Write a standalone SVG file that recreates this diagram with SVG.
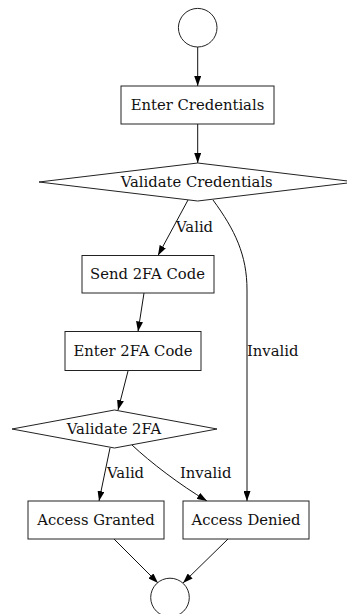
<svg xmlns="http://www.w3.org/2000/svg" width="347" height="614" viewBox="0 0 347 614">
<defs>
<marker id="ah" viewBox="0 0 10 7" refX="10" refY="3.5" markerWidth="10" markerHeight="7" markerUnits="userSpaceOnUse" orient="auto">
<path d="M0,0 L10,3.5 L0,7 z" fill="#000"/>
</marker>
<style>
.n{fill:#fff;stroke:#222;stroke-width:1}
.t{font-family:"DejaVu Serif",serif;font-size:14.8px;fill:#111;text-anchor:middle}
.l{font-family:"DejaVu Serif",serif;font-size:14.8px;fill:#111}
.e{fill:none;stroke:#111;stroke-width:1;marker-end:url(#ah)}
</style>
</defs>
<rect width="347" height="614" fill="#fff"/>
<g id="edges">
<path class="e" d="M197.7,47 L197.7,86"/>
<path class="e" d="M197.7,124 L197.7,163"/>
<path class="e" d="M188,200 L158,255.5"/>
<path class="e" d="M144,293 L138,331.5"/>
<path class="e" d="M128,371 L118,410"/>
<path class="e" d="M213,200 C235,230 247,255 247,290 L247,501"/>
<path class="e" d="M110,448 L99,501"/>
<path class="e" d="M132,445 C150,462 180,485 207,501"/>
<path class="e" d="M114,539 L158,583"/>
<path class="e" d="M228,539 L183,583"/>
<text class="l" x="176" y="232">Valid</text>
<text class="l" x="247" y="356">Invalid</text>
<text class="l" x="107" y="478">Valid</text>
<text class="l" x="180" y="478">Invalid</text>
</g>
<g id="start"><circle class="n" cx="197.7" cy="27.7" r="19.3"/></g>
<g id="enterCredentials"><rect class="n" x="121" y="86" width="153" height="38"/><text class="t" x="197.5" y="110">Enter Credentials</text></g>
<g id="validateCredentials"><polygon class="n" points="197.7,163 356,182 197.7,201 39,182"/><text class="t" x="196.7" y="187">Validate Credentials</text></g>
<g id="send2FA"><rect class="n" x="82" y="255.5" width="132" height="37.5"/><text class="t" x="147.5" y="278.5">Send 2FA Code</text></g>
<g id="enter2FA"><rect class="n" x="65" y="331.5" width="136" height="39"/><text class="t" x="133" y="355.5">Enter 2FA Code</text></g>
<g id="validate2FA"><polygon class="n" points="114.5,410 217,429 114.5,448 12,429"/><text class="t" x="114" y="433.5">Validate 2FA</text></g>
<g id="accessGranted"><rect class="n" x="28" y="501" width="136" height="38"/><text class="t" x="96" y="525">Access Granted</text></g>
<g id="accessDenied"><rect class="n" x="183" y="501" width="126" height="38"/><text class="t" x="246" y="525">Access Denied</text></g>
<g id="end"><circle class="n" cx="170" cy="597.5" r="19.3"/></g>
</svg>
